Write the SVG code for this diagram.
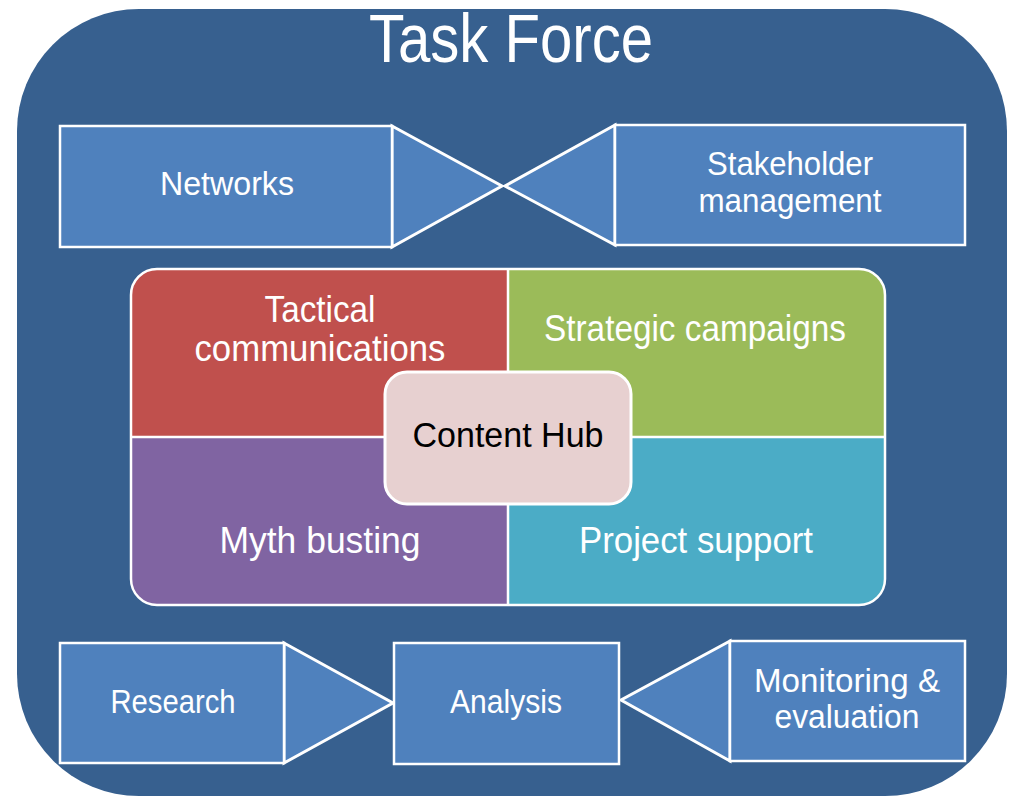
<svg xmlns="http://www.w3.org/2000/svg" width="1031" height="811" viewBox="0 0 1031 811">
<style>
.lbl{font-family:"Liberation Sans",Arial,sans-serif;font-size:33px;fill:#ffffff;text-anchor:middle}
.big{font-size:36px}
.box{fill:#4f81bd;stroke:#ffffff;stroke-width:2.5}
.tri{fill:#4f81bd;stroke:#ffffff;stroke-width:3;stroke-linejoin:miter}
.quad{stroke:none}
</style>
<rect width="1031" height="811" fill="#ffffff"/>
<g id="taskforce">
<rect x="17" y="9" width="990" height="787" rx="122" ry="122" fill="#37608f"/>
<text x="511" y="62" class="lbl" style="font-size:68px" textLength="284" lengthAdjust="spacingAndGlyphs">Task Force</text>
</g>
<g id="connectors">
<polygon class="tri" points="392,126 502,186 392,247"/>
<polygon class="tri" points="615,125 505,186 615,245"/>
<polygon class="tri" points="284,643 393,703 284,763"/>
<polygon class="tri" points="730,641 621,700 730,761"/>
</g>
<g id="networks">
<rect class="box" x="60" y="126" width="332" height="121"/>
<text class="lbl" x="227" y="195" textLength="134" lengthAdjust="spacingAndGlyphs">Networks</text>
</g>
<g id="stakeholder">
<rect class="box" x="615" y="125" width="350" height="120"/>
<text class="lbl" x="790" y="175" textLength="166" lengthAdjust="spacingAndGlyphs">Stakeholder</text>
<text class="lbl" x="790" y="212" textLength="183" lengthAdjust="spacingAndGlyphs">management</text>
</g>
<g id="hub-panel">
<defs>
<clipPath id="pclip"><rect x="131" y="269" width="754" height="336" rx="26" ry="26"/></clipPath>
</defs>
<g clip-path="url(#pclip)">
<rect class="quad" x="131" y="269" width="377" height="168" fill="#c0504d"/>
<rect class="quad" x="508" y="269" width="377" height="168" fill="#9bbb59"/>
<rect class="quad" x="131" y="437" width="377" height="168" fill="#8064a2"/>
<rect class="quad" x="508" y="437" width="377" height="168" fill="#4bacc6"/>
<line x1="508" y1="269" x2="508" y2="605" stroke="#ffffff" stroke-width="2.5"/>
<line x1="131" y1="437" x2="885" y2="437" stroke="#ffffff" stroke-width="2.5"/>
</g>
<rect x="131" y="269" width="754" height="336" rx="26" ry="26" fill="none" stroke="#ffffff" stroke-width="2.5"/>
</g>
<g id="tactical">
<text class="lbl big" x="320" y="322" textLength="111" lengthAdjust="spacingAndGlyphs">Tactical</text>
<text class="lbl big" x="320" y="361" textLength="251" lengthAdjust="spacingAndGlyphs">communications</text>
</g>
<g id="strategic">
<text class="lbl big" x="695" y="341" textLength="302" lengthAdjust="spacingAndGlyphs">Strategic campaigns</text>
</g>
<g id="myth">
<text class="lbl big" x="320" y="553" textLength="201" lengthAdjust="spacingAndGlyphs">Myth busting</text>
</g>
<g id="project">
<text class="lbl big" x="696" y="553" textLength="234" lengthAdjust="spacingAndGlyphs">Project support</text>
</g>
<g id="content-hub">
<rect x="385" y="372" width="246" height="132" rx="22" ry="22" fill="#e7d0d0" stroke="#ffffff" stroke-width="3"/>
<text class="lbl" x="508" y="447" style="fill:#000000;font-size:35px" textLength="191" lengthAdjust="spacingAndGlyphs">Content Hub</text>
</g>
<g id="research">
<rect class="box" x="60" y="643" width="224" height="120"/>
<text class="lbl" x="173" y="713" textLength="125" lengthAdjust="spacingAndGlyphs">Research</text>
</g>
<g id="analysis">
<rect class="box" x="394" y="643" width="225" height="121"/>
<text class="lbl" x="506" y="713" textLength="112" lengthAdjust="spacingAndGlyphs">Analysis</text>
</g>
<g id="monitoring">
<rect class="box" x="730" y="641" width="235" height="120"/>
<text class="lbl" x="847" y="692" textLength="186" lengthAdjust="spacingAndGlyphs">Monitoring &amp;</text>
<text class="lbl" x="847" y="728" textLength="145" lengthAdjust="spacingAndGlyphs">evaluation</text>
</g>
</svg>
